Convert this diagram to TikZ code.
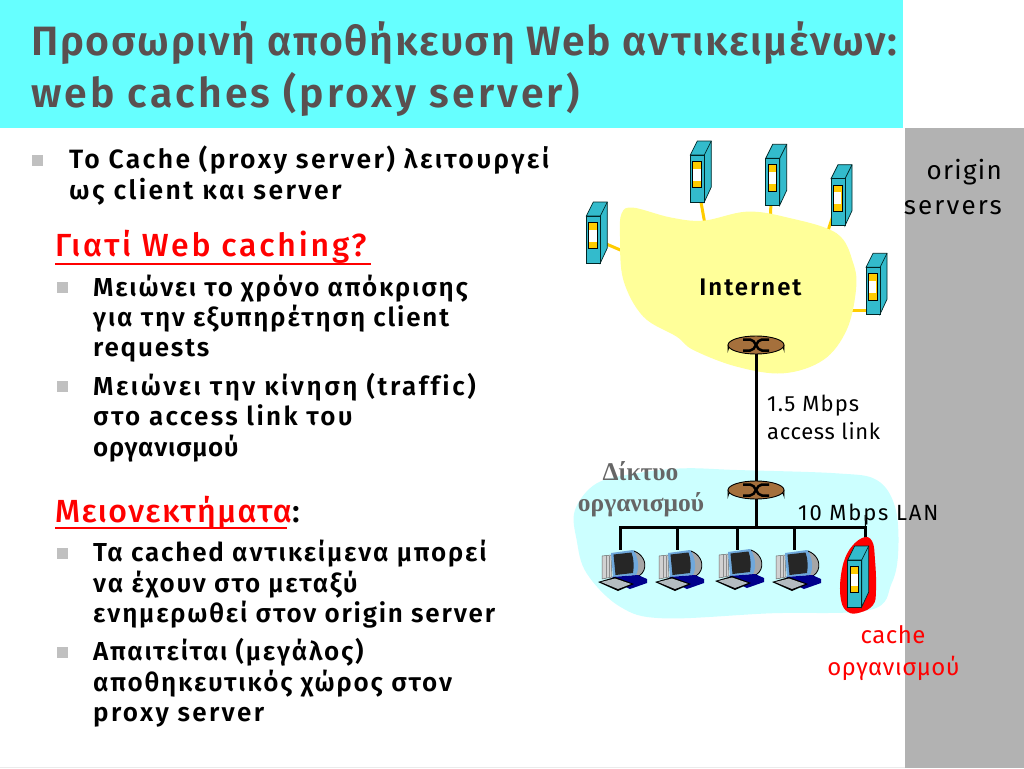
\documentclass[tikz,border=0pt]{standalone}
\usepackage{fontspec}
\setmainfont{Fira Sans}
\newfontfamily\bodyf[LetterSpace=7,Ligatures=NoCommon]{Fira Sans SemiBold}
\newfontfamily\bodyw[LetterSpace=10,Ligatures=NoCommon]{Fira Sans SemiBold}
\newfontfamily\bodym[LetterSpace=9,Ligatures=NoCommon]{Fira Sans SemiBold}
\newfontfamily\bodyn[LetterSpace=2.5,Ligatures=NoCommon]{Fira Sans SemiBold}
\newfontfamily\headf[LetterSpace=8.7]{Fira Sans Medium}
\newfontfamily\headg[LetterSpace=4.5]{Fira Sans Medium}
\newfontfamily\titlef[LetterSpace=4]{Fira Sans SemiBold}
\newfontfamily\titleg[LetterSpace=7.5]{Fira Sans SemiBold}
\newfontfamily\lblf[LetterSpace=5]{Fira Sans}
\newfontfamily\lbln[LetterSpace=3]{Fira Sans}
\newfontfamily\lblw[LetterSpace=8.3]{Fira Sans}
\newfontfamily\inetf[LetterSpace=8]{Fira Sans SemiBold}
\newfontfamily\redf[LetterSpace=2]{Fira Sans}
\newfontfamily\serf{Liberation Serif}
\definecolor{titlebg}{HTML}{66FFFF}
\definecolor{sidebar}{HTML}{B2B2B2}
\definecolor{titletxt}{HTML}{5A5050}
\definecolor{cloudy}{HTML}{FFFF99}
\definecolor{cloudb}{HTML}{CCFFFF}
\definecolor{srvteal}{HTML}{33BBCC}
\definecolor{srvgold}{HTML}{FFCC00}
\definecolor{routerc}{HTML}{A5703C}
\definecolor{redc}{HTML}{FF0000}
\definecolor{orgc}{HTML}{666666}
\definecolor{bull}{HTML}{C0C0C0}
\definecolor{pcframe}{HTML}{6FA8DC}
\tikzset{
  x=1pt,y=-1pt,
  title/.style={font=\titlef\fontsize{41}{44}\selectfont,color=titletxt,anchor=base west,inner sep=0},
  titleb/.style={font=\titleg\fontsize{41}{44}\selectfont,color=titletxt,anchor=base west,inner sep=0},
  body/.style={font=\bodyf\fontsize{26}{30}\selectfont,anchor=base west,inner sep=0},
  bodyw/.style={font=\bodyw\fontsize{26}{30}\selectfont,anchor=base west,inner sep=0},
  bodym/.style={font=\bodym\fontsize{26}{30}\selectfont,anchor=base west,inner sep=0},
  bodyn/.style={font=\bodyn\fontsize{26}{30}\selectfont,anchor=base west,inner sep=0},
  bodyb/.style={font=\bodym\fontsize{26.5}{30}\selectfont,anchor=base west,inner sep=0},
  head/.style={font=\headf\fontsize{32}{36}\selectfont,color=redc,anchor=base west,inner sep=0},
  headb/.style={font=\headg\fontsize{32}{36}\selectfont,color=redc,anchor=base west,inner sep=0},
  lbl/.style={font=\lblf\fontsize{22}{24}\selectfont,anchor=base west,inner sep=0},
  bul/.style={fill=bull,draw=none,minimum size=11pt,inner sep=0},
  yw/.style={draw=srvgold,line width=3pt},
  bw/.style={draw=black,line width=3pt},
}
\newcommand{\srv}[2]{% front-top-left x,y
  \begin{scope}[shift={(#1,#2)},draw=black!70!teal,line width=.7pt]
    \filldraw[fill=srvteal] (0,0) -- (7,-14) -- (21,-14) -- (21,32) -- (14,47) -- (14,0) -- cycle;
    \filldraw[fill=srvteal] (0,0) rectangle (14,47);
    \draw (14,0) -- (21,-14);
    \filldraw[fill=srvgold,draw=black] (2.2,6.3) rectangle (11,32.7);
    \fill[white] (2.9,13.5) rectangle (10.3,25.5);
  \end{scope}}
\newcommand{\rtr}[3]{% top ellipse centre, side height
  \begin{scope}[shift={(#1,#2)}]
    \filldraw[fill=routerc,draw=black,line width=.9pt] (-28,0) -- (-28,#3) arc[start angle=180,end angle=360,x radius=28,y radius=9] -- (28,0) -- cycle;
    \filldraw[fill=routerc,draw=black,line width=.9pt] (0,0) ellipse[x radius=28,y radius=9];
    \draw[line width=2.5pt] (-13,-5.5) -- (-6,-5.5) .. controls (0,-5.5) and (0,5.5) .. (6,5.5) -- (13,5.5);
    \draw[line width=2.5pt] (-13,5.5) -- (-6,5.5) .. controls (0,5.5) and (0,-5.5) .. (6,-5.5) -- (13,-5.5);
  \end{scope}}
\newcommand{\pcicon}[2]{% top-left of icon box
  \begin{scope}[shift={(#1,#2)}]
    \filldraw[fill=black!18,draw=black!60,line width=.5pt] (4,6) -- (13,5) -- (14,27) -- (4,29) -- cycle;
    \draw[black!45,line width=.5pt] (8,6) -- (8,28) (11,6) -- (11,27);
    \filldraw[fill=black!35,draw=black,line width=.8pt] (36,1) .. controls (44,4) and (49,12) .. (46,20) .. controls (44,25) and (40,27) .. (35,27) -- cycle;
    \fill[pcframe] (13,3) -- (35,0) .. controls (40,6) and (42,18) .. (38,25) -- (15,27) -- cycle;
    \fill[black!85] (15.5,4.5) -- (33.5,2.5) .. controls (36,9) and (36,17) .. (35,23) -- (17.5,25) -- cycle;
    \fill[blue!55!black] (14,27) -- (40,25) -- (49,29) -- (49,33) -- (32,39) -- (26,36) -- cycle;
    \fill[black] (0,32) -- (17,27) -- (36,34) -- (20,41) -- cycle;
    \fill[cyan!20!black!35] (3,32) -- (17,28.5) -- (33,34) -- (20,39) -- cycle;
  \end{scope}}
\begin{document}
\begin{tikzpicture}
\useasboundingbox (0,0) rectangle (1024,768);
\fill[white] (0,0) rectangle (1024,768);
\fill[sidebar] (905,128) rectangle (1024,768);
\fill[titlebg] (0,0) rectangle (903,128);
\draw[black!8,line width=1pt] (0,767.5) -- (905,767.5);

\node[title] (t1) at (31,56) {Προσωρινή αποθήκευση Web αντικειμένων:};
\node[titleb] (t2) at (31,107) {web caches (proxy server)};

\node[bul] (b0) at (37,160) {};
\node[bodyb] (l01) at (69,168) {Το Cache (proxy server) λειτουργεί};
\node[bodyb] (l02) at (69,199) {ως client και server};
\node[head] (h1) at (55,256) {Γιατί Web caching?};
\draw[redc,line width=1.3pt] (55,264) -- (371,264);
\node[bul] (b1) at (62,287) {};
\node[body] (l11) at (93,296) {Μειώνει το χρόνο απόκρισης};
\node[body] (l12) at (93,326) {για την εξυπηρέτηση client};
\node[body] (l13) at (93,356) {requests};
\node[bul] (b2) at (62,386) {};
\node[bodyw] (l21) at (93,395) {Μειώνει την κίνηση (traffic)};
\node[bodym] (l22) at (93,425) {στο access link του};
\node[bodyn] (l23) at (93,456) {οργανισμού};
\node[headb] (h2) at (55,522) {Μειονεκτήματα\textcolor{black}{:}};
\draw[redc,line width=1.3pt] (55,528) -- (287,528);
\node[bul] (b3) at (62,553) {};
\node[body] (l31) at (93,561) {Τα cached αντικείμενα μπορεί};
\node[body] (l32) at (93,592) {να έχουν στο μεταξύ};
\node[body] (l33) at (93,622) {ενημερωθεί στον origin server};
\node[bul] (b4) at (62,652) {};
\node[body] (l41) at (93,660) {Απαιτείται (μεγάλος)};
\node[body] (l42) at (93,691) {αποθηκευτικός χώρος στον};
\node[bodym] (l43) at (93,721) {proxy server};

\coordinate (s1) at (597,240); \coordinate (s2) at (697,180); \coordinate (s3) at (772,180);
\coordinate (s4) at (838,200); \coordinate (s5) at (873,310);
\coordinate (c1) at (625,252); \coordinate (c2) at (706,230); \coordinate (c3) at (770,225);
\coordinate (c4) at (825,240); \coordinate (c5) at (840,310);
\foreach \a/\b in {s1/c1,s2/c2,s3/c3,s4/c4,s5/c5} \draw[yw] (\a) -- (\b);

\begin{scope}[shift={(570,130)},scale=0.3333]
\fill[cloudy] plot[smooth cycle,tension=.6] coordinates {(190,233) (300,262) (400,272) (530,245) (650,262) (800,310) (850,400) (858,480) (830,600) (760,690) (640,730) (500,710) (370,660) (320,620) (220,560) (160,450) (150,320) (155,250)};
\end{scope}
\begin{scope}[shift={(570,450)},scale=0.3333]
\fill[cloudb] plot[smooth cycle,tension=.6] coordinates {(340,55) (500,60) (800,70) (920,90) (975,170) (985,300) (965,400) (900,480) (600,490) (280,505) (150,470) (50,370) (20,270) (15,180) (80,100) (200,70)};
\end{scope}

\coordinate (r1) at (756,345); \coordinate (r2) at (756,490);
\coordinate (lan) at (756,527);
\coordinate (la) at (620,527); \coordinate (lb) at (677,527); \coordinate (lc) at (737.5,527); \coordinate (ld) at (794,527); \coordinate (le) at (865.5,527);
\coordinate (pa) at (620,550); \coordinate (pb) at (677,550); \coordinate (pc) at (737.5,550); \coordinate (pd) at (794,550); \coordinate (pe) at (865.5,545);
\coordinate (lt) at (865,515);
\draw[bw] (r1) -- (r2);
\draw[bw] (r2) -- (lan);
\draw[bw,line cap=rect] (la) -- (le);
\foreach \a/\b in {la/pa,lb/pb,lc/pc,ld/pd,le/pe} \draw[bw] (\a) -- (\b);
\draw[line width=1pt] (lt) -- (le);

\srv{586.3}{216}\srv{690.3}{155}\srv{765.7}{158.3}\srv{831}{178.7}\srv{866}{267.3}
\rtr{756}{345}{5}\rtr{756}{490}{6}

\fill[redc] plot[smooth cycle,tension=.7] coordinates {(862,538) (872,541) (875,560) (876,590) (873,605) (860,612.5) (848,612) (841,600) (841,575) (848,552)};
\srv{847.7}{560}

\pcicon{598}{550}\pcicon{655}{550}\pcicon{715}{549}\pcicon{772}{550}

\node[font=\inetf\fontsize{24}{28}\selectfont,anchor=base] (inet) at (750.5,295) {Internet};
\node[lbl] (m1) at (767,411) {1.5 Mbps};
\node[lbl,font=\lbln\fontsize{22}{24}\selectfont] (m2) at (767,439) {access link};
\node[lbl,font=\lblw\fontsize{22}{24}\selectfont] (m3) at (798,520) {10 Mbps LAN};
\node[font=\serf\bfseries\fontsize{25.5}{28}\selectfont,color=orgc,anchor=base] (o1) at (640.5,480) {Δίκτυο};
\node[font=\serf\bfseries\fontsize{25.5}{28}\selectfont,color=orgc,anchor=base] (o2) at (641,511) {οργανισμού};
\node[font=\lblf\fontsize{26}{28}\selectfont,anchor=base east,inner sep=0] (n1) at (1002,179) {origin};
\node[font=\lblw\fontsize{26}{28}\selectfont,anchor=base east,inner sep=0] (n2) at (1002,214) {servers};
\node[font=\redf\fontsize{24}{28}\selectfont,color=redc,anchor=base] (k1) at (893,643) {cache};
\node[font=\redf\fontsize{24}{28}\selectfont,color=redc,anchor=base] (k2) at (893.5,675) {οργανισμού};
\end{tikzpicture}
\end{document}
